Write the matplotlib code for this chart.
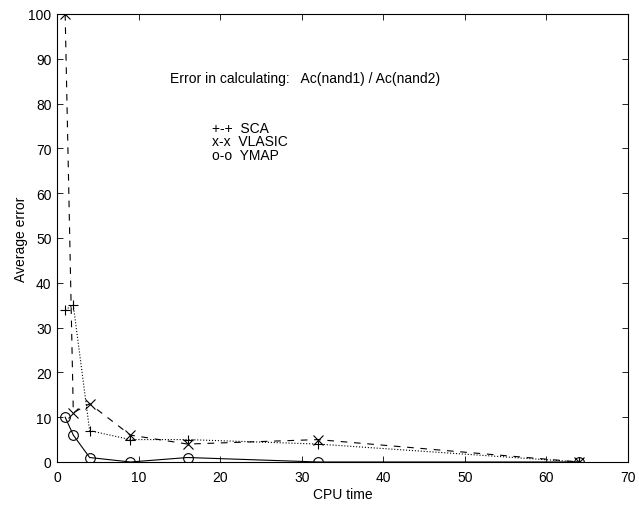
import matplotlib.pyplot as plt

plt.rcParams['font.family'] = ['Liberation Sans', 'DejaVu Sans']

cpu = [1, 2, 4, 9, 16, 32, 64]
sca = [34, 35, 7, 5, 5, 4, 0]
vlasic = [100, 11, 13, 6, 4, 5, 0]
ymap = [10, 6, 1, 0, 1, 0, 0]

fig = plt.figure(figsize=(6.39, 5.06), dpi=100)
ax = fig.add_axes([0.0892, 0.085, 0.8936, 0.8854])

ax.plot(cpu, sca, color='k', linestyle=':', linewidth=0.8, marker='+', markersize=7, markeredgewidth=0.8)
ax.plot(cpu, vlasic, color='k', linestyle=(0, (6, 6)), linewidth=0.8, marker='x', markersize=7, markeredgewidth=0.8)
ax.plot(cpu, ymap, color='k', linestyle='-', linewidth=0.8, marker='o', markersize=7,
        markerfacecolor='none', markeredgewidth=0.8)

ax.set_xlim(0, 70)
ax.set_ylim(0, 100)
ax.set_xticks(range(0, 71, 10))
ax.set_yticks(range(0, 101, 10))
ax.tick_params(direction='in', top=True, right=True, labelsize=10, length=4, width=0.6)
ax.tick_params(axis='x', pad=6)
ax.tick_params(axis='y', pad=4)
for s in ax.spines.values():
    s.set_linewidth(0.8)

ax.set_xlabel('CPU time', fontsize=10, labelpad=2)
ax.set_ylabel('Average error', fontsize=10, labelpad=0.5)

ax.text(13.8, 85.7, 'Error in calculating:   Ac(nand1) / Ac(nand2)', fontsize=10, va='center')
ax.text(19, 74.6, '+-+  SCA', fontsize=10, va='center')
ax.text(19, 71.6, 'x-x  VLASIC', fontsize=10, va='center')
ax.text(19, 68.6, 'o-o  YMAP', fontsize=10, va='center')

fig.savefig('out.png', dpi=100)
